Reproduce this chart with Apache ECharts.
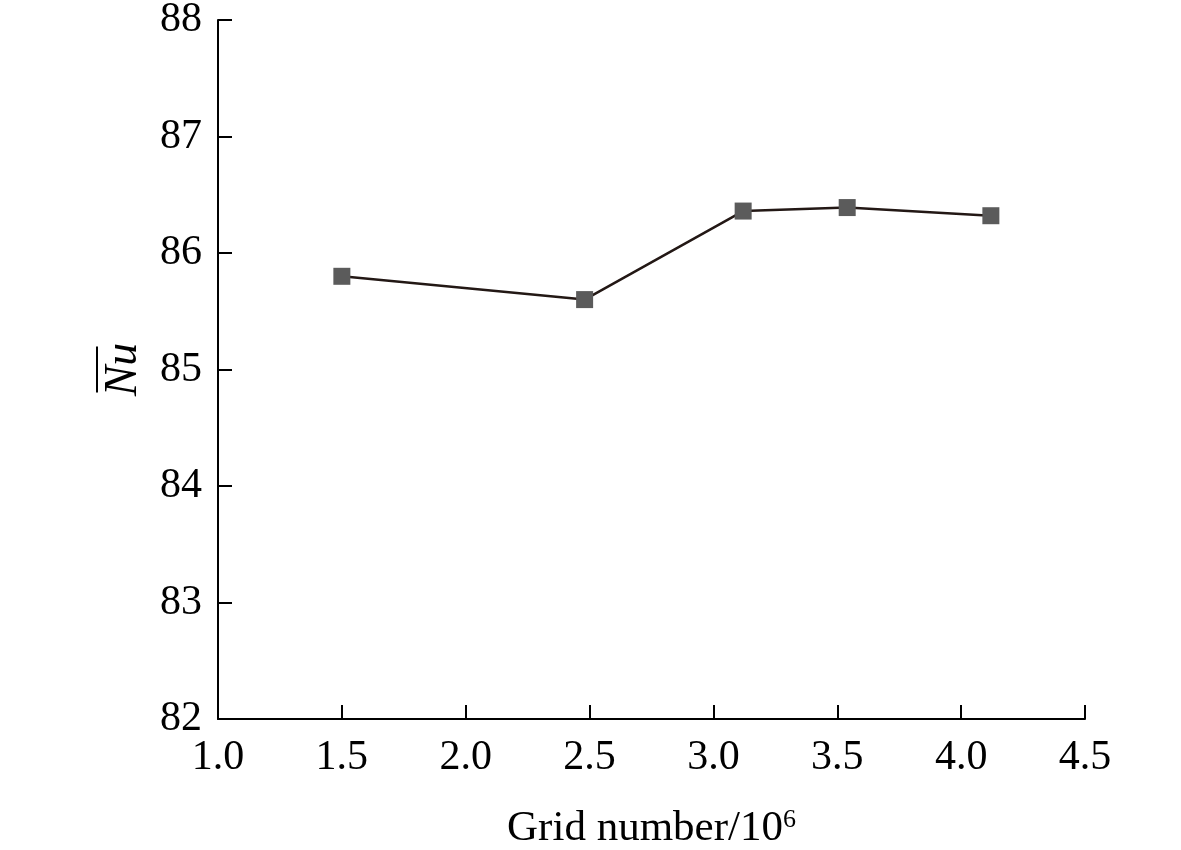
<!DOCTYPE html>
<html>
<head>
    <meta charset="utf-8">
    <title>Grid independence</title>
    <script src="https://cdn.jsdelivr.net/npm/echarts@6/dist/echarts.min.js"></script>
    <style>
        html, body { margin: 0; padding: 0; background: #fff; }
        #chart { width: 1181px; height: 850px; }
    </style>
</head>
<body>
<div id="chart"></div>
<script>
    // 网格数 (10^6) 与平均 Nu
    var gridNumber = [1.5, 2.48, 3.12, 3.54, 4.12];
    var nuMean = [85.80, 85.60, 86.36, 86.39, 86.32];
    var xTicks = [1.0, 4.5, 0.5];   // min, max, interval
    var yTicks = [82, 88, 1];

    var points = gridNumber.map(function (x, i) { return [x, nuMean[i]]; });
    var font = '"Liberation Serif", "Times New Roman", serif';

    var myChart = echarts.init(document.getElementById('chart'));
    myChart.setOption({
        animation: false,
        grid: { left: 218, right: 96, top: 20, bottom: 131, outerBoundsMode: 'none' },
        xAxis: {
            type: 'value',
            min: xTicks[0], max: xTicks[1], interval: xTicks[2],
            name: '{a|Grid number/10}{s|6}',
            nameLocation: 'middle',
            nameGap: 88,
            nameTextStyle: {
                rich: {
                    a: { fontFamily: font, fontSize: 43, color: '#000' },
                    s: { fontFamily: font, fontSize: 26, color: '#000', verticalAlign: 'top', padding: [0, 0, 16, 0] }
                }
            },
            axisLine: { lineStyle: { color: '#000', width: 2 } },
            axisTick: { inside: true, length: 14, lineStyle: { color: '#000', width: 2 } },
            axisLabel: {
                margin: 18, fontFamily: font, fontSize: 42, color: '#000',
                formatter: function (v) { return v.toFixed(1); }
            },
            splitLine: { show: false }
        },
        yAxis: {
            type: 'value',
            min: yTicks[0], max: yTicks[1], interval: yTicks[2],
            // 带上划线的 Nu
            name: '{bar|}\n{nu|Nu}',
            nameLocation: 'middle',
            nameGap: 72,
            nameTextStyle: {
                rich: {
                    bar: { width: 46, height: 2, backgroundColor: '#000', lineHeight: 10, align: 'center' },
                    nu: { fontFamily: font, fontSize: 46, fontStyle: 'italic', color: '#000', lineHeight: 44, align: 'center' }
                }
            },
            axisLine: { lineStyle: { color: '#000', width: 2 } },
            axisTick: { inside: true, length: 14, lineStyle: { color: '#000', width: 2 } },
            axisLabel: { margin: 16, fontFamily: font, fontSize: 42, color: '#000' },
            splitLine: { show: false }
        },
        series: [{
            type: 'line',
            data: points,
            symbol: 'rect',
            symbolSize: 17,
            itemStyle: { color: '#5b5b5b' },
            lineStyle: { color: '#231815', width: 2.5 }
        }]
    });
</script>
</body>
</html>
